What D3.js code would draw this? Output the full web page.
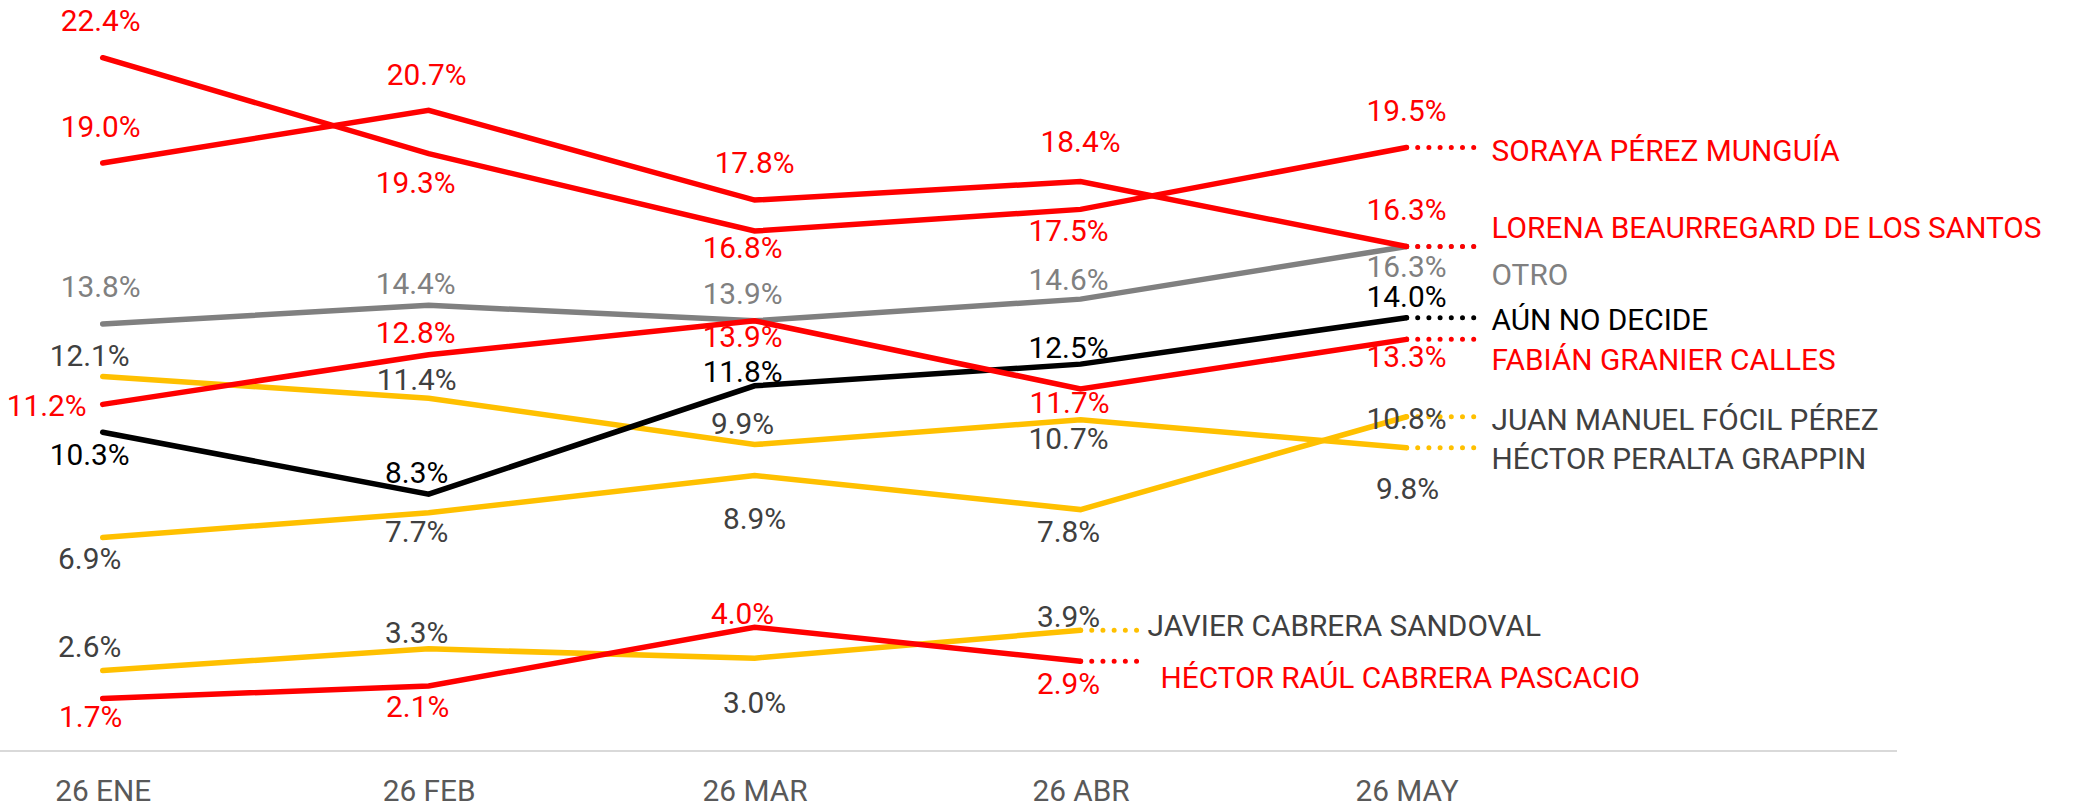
<!DOCTYPE html>
<html>
<head>
<meta charset="utf-8">
<script src="https://cdn.jsdelivr.net/npm/d3@7"></script>
<style>
    body { margin: 0; background: #fff; }
    text { font-family: Roboto, sans-serif; font-size: 29.8px; }
</style>
</head>
<body>
<div id="chart"></div>
<script>
// datos (% intención de voto)
const months = ["26 ENE", "26 FEB", "26 MAR", "26 ABR", "26 MAY"];
const soraya = [22.4, 19.3, 16.8, 17.5, 19.5];
const lorena = [19.0, 20.7, 17.8, 18.4, 16.3];
const otro = [13.8, 14.4, 13.9, 14.6, 16.3];
const aunNoDecide = [10.3, 8.3, 11.8, 12.5, 14.0];
const fabian = [11.2, 12.8, 13.9, 11.7, 13.3];
const focil = [6.9, 7.7, 8.9, 7.8, 10.8];
const peralta = [12.1, 11.4, 9.9, 10.7, 9.8];
const javier = [2.6, 3.3, 3.0, 3.9];
const hectorRaul = [1.7, 2.1, 4.0, 2.9];

const RED = "#ff0000", GRAY = "#808080", BLACK = "#000000", YELLOW = "#ffc000", DARK = "#404040";

// orden de dibujo: amarillos abajo, rojos arriba
const series = [
    {name: "JUAN MANUEL FÓCIL PÉREZ", values: focil, line: YELLOW, text: DARK},
    {name: "HÉCTOR PERALTA GRAPPIN", values: peralta, line: YELLOW, text: DARK},
    {name: "JAVIER CABRERA SANDOVAL", values: javier, line: YELLOW, text: DARK},
    {name: "OTRO", values: otro, line: GRAY, text: GRAY},
    {name: "AÚN NO DECIDE", values: aunNoDecide, line: BLACK, text: BLACK},
    {name: "FABIÁN GRANIER CALLES", values: fabian, line: RED, text: RED},
    {name: "HÉCTOR RAÚL CABRERA PASCACIO", values: hectorRaul, line: RED, text: RED},
    {name: "LORENA BEAURREGARD DE LOS SANTOS", values: lorena, line: RED, text: RED},
    {name: "SORAYA PÉREZ MUNGUÍA", values: soraya, line: RED, text: RED}
];

// desplazamiento de las etiquetas de valor [dx, dy] respecto al punto
const valueNudge = {
    "JUAN MANUEL FÓCIL PÉREZ": [[-13, 21], [-12, 19], [0, 43], [-12, 22], [0, 2]],
    "HÉCTOR PERALTA GRAPPIN": [[-13, -21], [-12, -19], [-12, -21], [-12, 19], [1, 41]],
    "JAVIER CABRERA SANDOVAL": [[-13, -24], [-12, -16], [0, 44], [-12, -14]],
    "OTRO": [[-2, -37], [-13, -22], [-12, -27], [-12, -20], [0, 20]],
    "AÚN NO DECIDE": [[-13, 22], [-12, -22], [-12, -14], [-12, -17], [0, -21]],
    "FABIÁN GRANIER CALLES": [[-56, 1], [-13, -22], [-12, 16], [-11, 14], [0, 17]],
    "HÉCTOR RAÚL CABRERA PASCACIO": [[-12, 18], [-11, 20], [-12, -14], [-12, 22]],
    "LORENA BEAURREGARD DE LOS SANTOS": [[-2, -37], [-2, -36], [0, -38], [0, -40], [0, -37]],
    "SORAYA PÉREZ MUNGUÍA": [[-2, -37], [-13, 29], [-12, 16], [-12, 21], [0, -37]]
};

// etiqueta final: [inicio del texto respecto al punto, dy]
const nameNudge = {
    "JUAN MANUEL FÓCIL PÉREZ": [85, 3],
    "HÉCTOR PERALTA GRAPPIN": [85, 11],
    "JAVIER CABRERA SANDOVAL": [67, -5],
    "OTRO": [85, 28],
    "AÚN NO DECIDE": [85, 2],
    "FABIÁN GRANIER CALLES": [85, 20],
    "HÉCTOR RAÚL CABRERA PASCACIO": [80, 16],
    "LORENA BEAURREGARD DE LOS SANTOS": [85, -19],
    "SORAYA PÉREZ MUNGUÍA": [85, 3]
};

const width = 2077, height = 812;
const axisY = 751;

const svg = d3.select("#chart")
    .append("svg")
    .attr("width", width)
    .attr("height", height);

const x = d3.scalePoint()
    .domain(months)
    .range([102.7, 1406.5]);

const y = d3.scaleLinear()
    .domain([0, 25])
    .range([axisY, axisY - 25 * 30.95]);

// eje x
svg.append("line")
    .attr("x1", 0)
    .attr("x2", 1897)
    .attr("y1", axisY)
    .attr("y2", axisY)
    .attr("stroke", "#d9d9d9")
    .attr("stroke-width", 2);

svg.append("g")
    .attr("transform", `translate(0,${axisY})`)
    .call(d3.axisBottom(x).tickSize(0).tickPadding(28.4))
    .call(g => g.select(".domain").remove())
    .selectAll("text")
    .attr("fill", "#595959")
    .style("font-family", "Roboto, sans-serif")
    .style("font-size", "29.8px");

const line = d3.line()
    .x((d, i) => x(months[i]))
    .y(d => y(d));

series.forEach(s => {
    const last = s.values.length - 1;
    const lx = x(months[last]);
    const ly = y(s.values[last]);
    const dotLen = last === 4 ? 70 : 56;

    // punteado hasta el nombre
    svg.append("line")
        .attr("x1", lx)
        .attr("x2", lx + dotLen)
        .attr("y1", ly)
        .attr("y2", ly)
        .attr("stroke", s.line)
        .attr("stroke-width", 5)
        .attr("stroke-linecap", "round")
        .attr("stroke-dasharray", "0 11.2");

    svg.append("path")
        .datum(s.values)
        .attr("fill", "none")
        .attr("stroke", s.line)
        .attr("stroke-width", 5.5)
        .attr("stroke-linecap", "round")
        .attr("d", line);
});

// etiquetas de valores y nombres
series.forEach(s => {
    const nudges = valueNudge[s.name];
    svg.append("g")
        .selectAll("text")
        .data(s.values)
        .enter()
        .append("text")
        .attr("x", (d, i) => x(months[i]) + nudges[i][0])
        .attr("y", (d, i) => y(d) + nudges[i][1])
        .attr("dy", "0.355em")
        .attr("text-anchor", "middle")
        .attr("fill", s.text)
        .text(d => d.toFixed(1) + "%");

    const last = s.values.length - 1;
    const nn = nameNudge[s.name];
    svg.append("text")
        .attr("x", x(months[last]) + nn[0])
        .attr("y", y(s.values[last]) + nn[1])
        .attr("dy", "0.355em")
        .attr("fill", s.text)
        .text(s.name);
});
</script>
</body>
</html>
